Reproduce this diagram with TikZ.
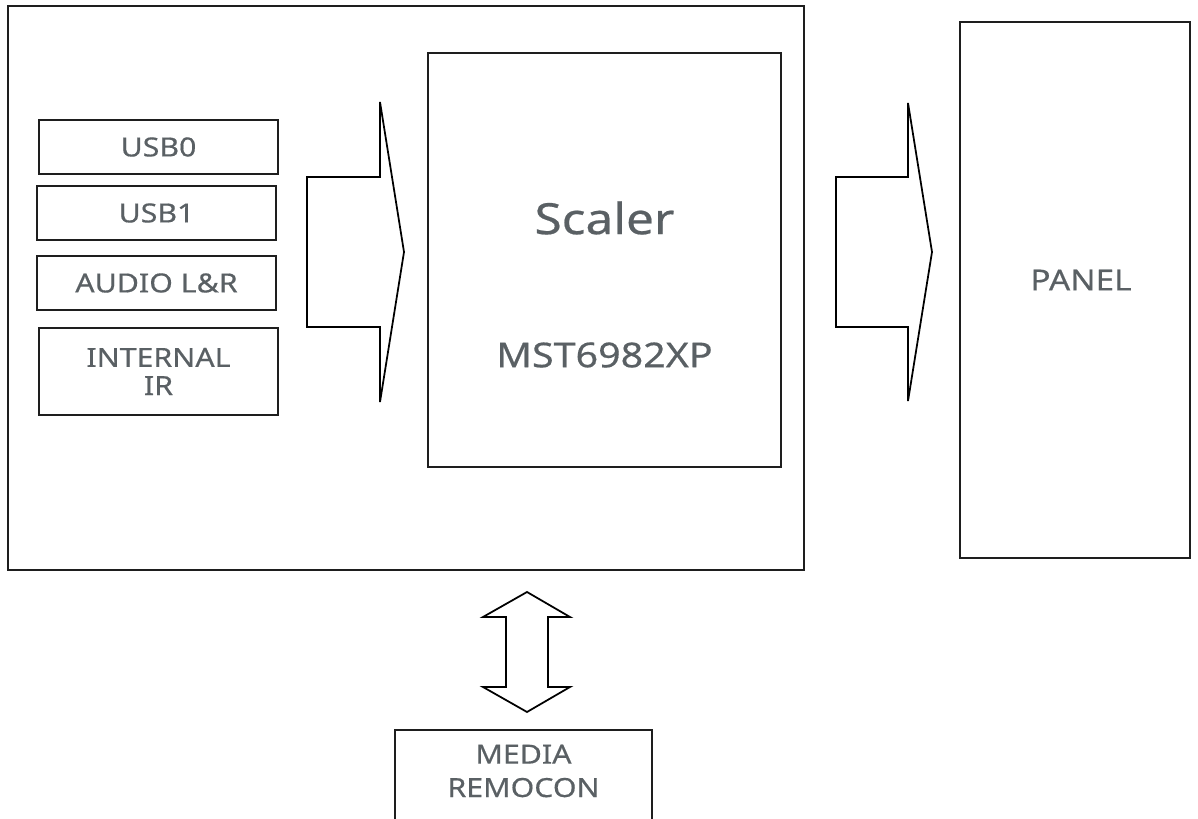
\documentclass[tikz,border=0pt]{standalone}
\usepackage{fontspec}
\usepackage{xcolor}
\usepackage{tikz}
\usetikzlibrary{positioning,calc}
\newfontfamily\diagfont{Noto Sans}[FakeStretch=1.15, FakeBold=0.5]
\definecolor{labelgray}{HTML}{5A6064}
\definecolor{edgegray}{HTML}{1E1E1E}

\begin{document}
\begin{tikzpicture}[
  blk/.style={rectangle, draw=edgegray, line width=0.9pt, inner sep=0pt,
    minimum width=#1},
  txt/.style={text=labelgray, font=\diagfont\fontsize{15}{18}\selectfont, align=center},
  blockarrow/.style={draw=black, line width=1pt, line join=miter}
]
\useasboundingbox (0,0) rectangle (23.96,-16.38);

% main board
\node[blk=15.92cm, minimum height=11.28cm] (board) at (8.12,-5.76) {};

% inputs
\node[blk=4.78cm, minimum height=1.08cm, txt] (usb0) at (3.17,-2.94) {USB0};
\node[blk=4.78cm, minimum height=1.08cm, txt] (usb1) at (3.13,-4.26) {USB1};
\node[blk=4.78cm, minimum height=1.08cm, txt] (audio) at (3.13,-5.66) {AUDIO L\&R};
\node[blk=4.78cm, minimum height=1.74cm, txt, text depth=0pt] (ir) at (3.17,-7.43) {INTERNAL\\[-2pt]IR};

% scaler
\node[blk=7.06cm, minimum height=8.28cm] (scaler) at (12.09,-5.2) {};
\node[txt, font=\diagfont\fontsize{24.5}{28}\selectfont] (scalername) at (12.09,-4.36) {Scaler};
\node[txt, font=\diagfont\fontsize{19.5}{23}\selectfont] (scalerchip) at (12.09,-7.1) {MST6982XP};

% panel
\node[blk=4.6cm, minimum height=10.72cm] (panel) at (21.5,-5.8) {};
\node[txt, font=\diagfont\fontsize{16.5}{19}\selectfont] (paneltxt) at (21.62,-5.6) {PANEL};

% remote
\node[blk=5.14cm, minimum height=2.3cm, anchor=north] (remocon) at (10.47,-14.58) {};
\node[txt, font=\diagfont\fontsize{15}{19}\selectfont] (remocontxt) at (10.47,-15.42) {MEDIA\\REMOCON};

% block arrows
\draw[blockarrow] (6.14,-3.54) -- (7.6,-3.54) -- (7.6,-2.04) -- (8.08,-5.04)
  -- (7.6,-8.04) -- (7.6,-6.54) -- (6.14,-6.54) -- cycle;
\draw[blockarrow] (16.72,-3.54) -- (18.16,-3.54) -- (18.16,-2.06) -- (18.64,-5.04)
  -- (18.16,-8.02) -- (18.16,-6.54) -- (16.72,-6.54) -- cycle;
\draw[blockarrow] (10.54,-11.84) -- (11.4,-12.34) -- (10.96,-12.34) -- (10.96,-13.74)
  -- (11.4,-13.74) -- (10.54,-14.24) -- (9.66,-13.74) -- (10.12,-13.74)
  -- (10.12,-12.34) -- (9.66,-12.34) -- cycle;
\end{tikzpicture}
\end{document}
